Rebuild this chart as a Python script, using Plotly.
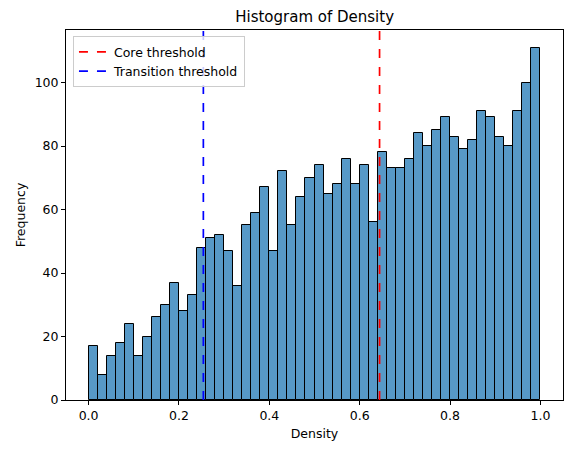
import plotly.graph_objects as go

bin_edges_start = [i / 50 for i in range(50)]
counts = [17, 8, 14, 18, 24, 14, 20, 26, 30, 37, 28, 33, 48, 51, 52, 47,
          36, 55, 59, 67, 47, 72, 55, 64, 70, 74, 65, 68, 76, 68, 74, 56, 78,
          73, 73, 76, 84, 80, 85, 89, 83, 79, 82, 91, 89, 83, 80, 91, 100, 111]
bin_width = 0.02
core_threshold = 0.644
transition_threshold = 0.254
x_ticks = [0.0, 0.2, 0.4, 0.6, 0.8, 1.0]
y_ticks = [0, 20, 40, 60, 80, 100]

ymax = max(counts) * 1.05
centers = [s + bin_width / 2 for s in bin_edges_start]

fig = go.Figure()
fig.add_trace(go.Bar(
    x=centers, y=counts, width=bin_width,
    marker=dict(color="rgba(31,119,180,0.75)", line=dict(color="black", width=1)),
    showlegend=False, hoverinfo="x+y",
))
fig.add_trace(go.Scatter(
    x=[core_threshold, core_threshold], y=[0, ymax], mode="lines",
    line=dict(color="red", dash="dash", width=1.7), name="Core threshold",
))
fig.add_trace(go.Scatter(
    x=[transition_threshold, transition_threshold], y=[0, ymax], mode="lines",
    line=dict(color="blue", dash="dash", width=1.7), name="Transition threshold",
))

fs = 12.5
font = dict(family="DejaVu Sans", size=fs, color="black")
fig.update_layout(
    width=571, height=453,
    margin=dict(l=66, r=8, t=30, b=53),
    paper_bgcolor="white", plot_bgcolor="white",
    font=font,
    bargap=0,
    title=dict(text="Histogram of Density", x=0.551, xanchor="center", y=0.962,
               yanchor="middle", font=dict(family="DejaVu Sans", size=15, color="black")),
    legend=dict(x=0.014, y=0.983, xanchor="left", yanchor="top",
                bgcolor="rgba(255,255,255,0.8)", bordercolor="#cccccc", borderwidth=1,
                tracegroupgap=0,
                font=dict(family="DejaVu Sans", size=fs, color="black")),
)
fig.update_xaxes(
    range=[-0.05, 1.05], tickvals=x_ticks, ticktext=[f"{v:.1f}" for v in x_ticks],
    showgrid=False, zeroline=False, showline=True, linecolor="black", linewidth=1,
    mirror=True, ticks="outside", ticklen=4, tickcolor="black",
    title=dict(text="Density", font=dict(family="DejaVu Sans", size=fs), standoff=7),
)
fig.update_yaxes(
    range=[0, ymax], tickvals=y_ticks,
    showgrid=False, zeroline=False, showline=True, linecolor="black", linewidth=1,
    mirror=True, ticks="outside", ticklen=4, tickcolor="black",
    title=dict(text="Frequency", font=dict(family="DejaVu Sans", size=fs), standoff=6),
)
fig.write_html("out.html")
